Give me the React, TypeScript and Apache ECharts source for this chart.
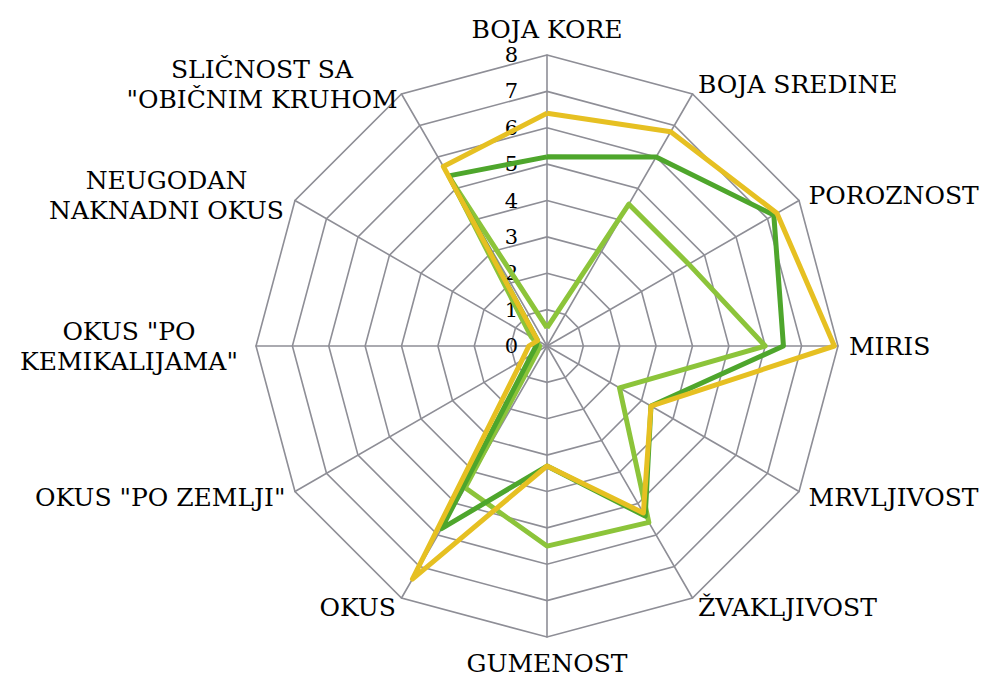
import React, { useEffect, useRef } from "react";
import * as echarts from "echarts";

// Categories listed clockwise starting from the top
const categories = [
  "BOJA KORE",
  "BOJA SREDINE",
  "POROZNOST",
  "MIRIS",
  "MRVLJIVOST",
  "ŽVAKLJIVOST",
  "GUMENOST",
  "OKUS",
  'OKUS "PO ZEMLJI"',
  'OKUS "PO\nKEMIKALIJAMA"',
  "NEUGODAN\nNAKNADNI OKUS",
  'SLIČNOST SA\n"OBIČNIM KRUHOM',
];

const seriesYellow = [6.4, 6.8, 7.3, 7.9, 3.3, 5.3, 3.3, 7.4, 0.8, 0.5, 0.3, 5.7];
const seriesDarkGreen = [5.2, 6.0, 7.2, 6.5, 3.3, 5.4, 3.3, 5.8, 0.5, 0.3, 0.3, 5.4];
const seriesLightGreen = [0.5, 4.5, 4.5, 6.0, 2.3, 5.6, 5.5, 4.5, 0.3, 0.2, 0.5, 5.3];

const axisMax = 8;
const splitCount = 8;

// ECharts draws radar indicators counter-clockwise; reorder so the result reads clockwise
const order = [0, ...Array.from({ length: categories.length - 1 }, (_, k) => categories.length - 1 - k)];
const reorder = (arr: any[]) => order.map((i) => arr[i]);

export default function App() {
  const ref = useRef<HTMLDivElement>(null);
  useEffect(() => {
    if (!ref.current) return;
    const chart = echarts.init(ref.current, undefined, { renderer: "svg" });
    const font = "DejaVu Serif";
    const fs = 25;
    const names = reorder(categories);
    const lineBox = (w: number) => ({
      fontFamily: font,
      fontSize: fs,
      lineHeight: 30,
      color: "#000000",
      width: w,
      align: "center",
    });
    chart.setOption({
      animation: false,
      backgroundColor: "#ffffff",
      textStyle: { fontFamily: font },
      radar: {
        center: [547, 346],
        radius: 291,
        startAngle: 90,
        shape: "polygon",
        splitNumber: splitCount,
        nameGap: 11,
        axisName: {
          color: "#000000",
          fontFamily: font,
          fontSize: fs,
          lineHeight: 30,
          formatter: (name: string) => {
            if (name.indexOf("\n") < 0) return name;
            const idx = categories.indexOf(name);
            const key = idx === 11 ? "a" : idx === 10 ? "b" : "c";
            return name
              .split("\n")
              .map((l) => "{" + key + "|" + l + "}")
              .join("\n");
          },
          rich: {
            a: lineBox(268),
            b: lineBox(238),
            c: lineBox(232),
          },
        },
        indicator: names.map((name, i) => ({
          name,
          min: 0,
          max: axisMax,
          axisLabel: { show: i === 0 },
        })),
        splitArea: { show: false },
        splitLine: { lineStyle: { color: "#8e8e96", width: 1.6 } },
        axisLine: { lineStyle: { color: "#8e8e96", width: 1.6 } },
        axisTick: { show: false },
        axisLabel: {
          show: false,
          color: "#000000",
          fontFamily: font,
          fontSize: 21,
          margin: 29,
          showMinLabel: true,
          showMaxLabel: true,
        },
      },
      series: [
        {
          type: "radar",
          symbol: "none",
          data: [
            { value: reorder(seriesLightGreen), name: "C", lineStyle: { color: "#8cc43a", width: 5 } },
            { value: reorder(seriesDarkGreen), name: "B", lineStyle: { color: "#4ea62c", width: 5 } },
            { value: reorder(seriesYellow), name: "A", lineStyle: { color: "#e6c022", width: 5 } },
          ],
          z: 3,
        },
      ],
    });
    return () => chart.dispose();
  }, []);
  return (
    <div
      ref={ref}
      style={{ position: "fixed", left: 0, top: 0, width: 992, height: 682 }}
    />
  );
}
